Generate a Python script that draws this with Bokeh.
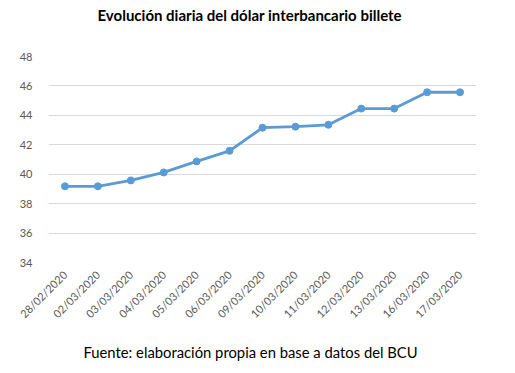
from bokeh.plotting import figure
from bokeh.models import FactorRange, Range1d, Title, FixedTicker
from bokeh.embed import file_html
from bokeh.resources import INLINE
import math

dates = ["28/02/2020", "02/03/2020", "03/03/2020", "04/03/2020", "05/03/2020",
         "06/03/2020", "09/03/2020", "10/03/2020", "11/03/2020", "12/03/2020",
         "13/03/2020", "16/03/2020", "17/03/2020"]
rates = [39.18, 39.18, 39.58, 40.12, 40.87, 41.59, 43.16, 43.23, 43.36,
         44.46, 44.46, 45.57, 45.57]
y_ticks = [34, 36, 38, 40, 42, 44, 46, 48]

FONT = "Lato"

p = figure(width=507, height=373, x_range=FactorRange(factors=dates, range_padding=0),
           y_range=Range1d(34, 48), output_backend="svg", toolbar_location=None,
           min_border_left=48, min_border_right=31, min_border_top=56, min_border_bottom=111)
p.outline_line_color = None
p.background_fill_color = "white"
p.border_fill_color = "white"

p.line(dates, rates, line_color="#5b9bd5", line_width=2.8)
p.scatter(dates, rates, size=7, fill_color="#5b9bd5", line_color="#5b9bd5")

p.yaxis.ticker = FixedTicker(ticks=y_ticks)
for ax in [p.xaxis[0], p.yaxis[0]]:
    ax.axis_line_color = None
    ax.major_tick_line_color = None
    ax.minor_tick_line_color = None
    ax.major_label_text_color = "#595959"
    ax.major_label_text_font = FONT
    ax.major_label_text_font_size = "11px"
p.yaxis.major_label_standoff = 10
p.xaxis.major_label_orientation = math.pi / 4
p.xaxis.major_label_standoff = 4
p.xgrid.grid_line_color = None
p.ygrid.grid_line_color = "#d9d9d9"
p.ygrid.grid_line_width = 1

p.title = Title(text="Evolución diaria del dólar interbancario billete", align="left",
                text_font=FONT, text_font_style="bold", text_font_size="15px",
                text_color="black", offset=49, standoff=0, vertical_align="top")
spacer = Title(text=" ", text_font_size="1px", standoff=28)
p.add_layout(spacer, "above")
footer = Title(text="Fuente: elaboración propia en base a datos del BCU", align="left",
               text_font=FONT, text_font_style="normal", text_font_size="14.8px",
               text_color="black", offset=35, standoff=26)
p.add_layout(footer, "below")

open("out.html", "w").write(file_html(p, INLINE))
